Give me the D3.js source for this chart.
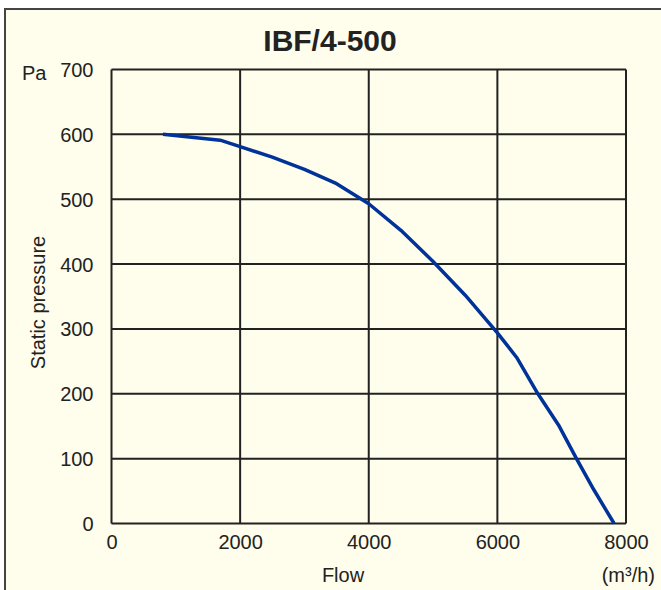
<!DOCTYPE html>
<html><head><meta charset="utf-8">
<script src="https://cdn.jsdelivr.net/npm/d3@7"></script>
<style>
html,body{margin:0;padding:0;background:#fff;}
svg{display:block;}
text{font-family:"Liberation Sans",Arial,sans-serif;fill:#222;}
</style></head>
<body>
<script>
const title = "IBF/4-500";
const flow = [800, 1690, 2000, 2500, 3000, 3500, 4000, 4500, 5000, 5500, 6000, 6300, 6630, 6950, 7230, 7500, 7815];
const pressure = [600, 591, 581, 565, 546, 524, 493, 452, 404, 352, 294, 256, 200, 152, 100, 52, 0];
const xTicks = [0, 2000, 4000, 6000, 8000];
const yTicks = [0, 100, 200, 300, 400, 500, 600, 700];
const xLabel = "Flow", xUnit = "(m³/h)", yLabel = "Static pressure", yUnit = "Pa";

const W = 661, H = 590;
const svg = d3.select("body").append("svg").attr("width", W).attr("height", H);
svg.append("rect").attr("x", 0).attr("y", 0).attr("width", W).attr("height", H).attr("fill", "#fff");
svg.append("rect").attr("x", 5).attr("y", 9).attr("width", W).attr("height", H).attr("fill", "#FFFDEB");
svg.append("path").attr("d", `M5,${H} V9 H${W}`).attr("fill", "none").attr("stroke", "#444").attr("stroke-width", 2);

const L = 111.5, R = 626, T = 69.5, B = 523.5;
const x = d3.scaleLinear().domain([0, 8000]).range([L, R]);
const y = d3.scaleLinear().domain([0, 700]).range([B, T]);

const g = svg.append("g");
g.selectAll("line.v").data(xTicks).join("line")
  .attr("x1", d => x(d)).attr("x2", d => x(d)).attr("y1", T).attr("y2", B)
  .attr("stroke", "#222").attr("stroke-width", 2);
g.selectAll("line.h").data(yTicks).join("line")
  .attr("y1", d => y(d)).attr("y2", d => y(d)).attr("x1", L).attr("x2", R)
  .attr("stroke", "#222").attr("stroke-width", 2);

// axes labels via d3 axes (no domain/tick lines)
const xAxis = svg.append("g").attr("transform", `translate(0,${B})`)
  .call(d3.axisBottom(x).tickValues(xTicks).tickFormat(d3.format("d")).tickSize(0).tickPadding(10));
const yAxis = svg.append("g").attr("transform", `translate(${L},0)`)
  .call(d3.axisLeft(y).tickValues(yTicks).tickFormat(d3.format("d")).tickSize(0).tickPadding(18));
[xAxis, yAxis].forEach(a => {
  a.select(".domain").remove();
  a.selectAll("text").attr("font-size", 20).attr("fill", "#222")
    .style("font-family", '"Liberation Sans",Arial,sans-serif');
});
yAxis.selectAll("text").attr("dy", "0.35em");
xAxis.selectAll("text").attr("dy", "0.75em");

const data = flow.map((f, i) => [f, pressure[i]]);
svg.append("path").datum(data)
  .attr("d", d3.line().x(d => x(d[0])).y(d => y(d[1])).curve(d3.curveLinear))
  .attr("fill", "none").attr("stroke", "#003399").attr("stroke-width", 3.5)
  .attr("stroke-linejoin", "round");

svg.append("text").attr("x", 330).attr("y", 51).attr("text-anchor", "middle")
  .attr("font-size", 30).attr("font-weight", "bold").text(title);
svg.append("text").attr("x", 22).attr("y", 80).attr("font-size", 20).text(yUnit);
svg.append("text").attr("transform", `translate(45,${(T + B) / 2 + 6}) rotate(-90)`)
  .attr("text-anchor", "middle").attr("font-size", 20).text(yLabel);
svg.append("text").attr("x", x(3600)).attr("y", 582).attr("text-anchor", "middle").attr("font-size", 20).text(xLabel);
svg.append("text").attr("x", 655).attr("y", 582).attr("text-anchor", "end").attr("font-size", 20).text(xUnit);
</script>
</body></html>
